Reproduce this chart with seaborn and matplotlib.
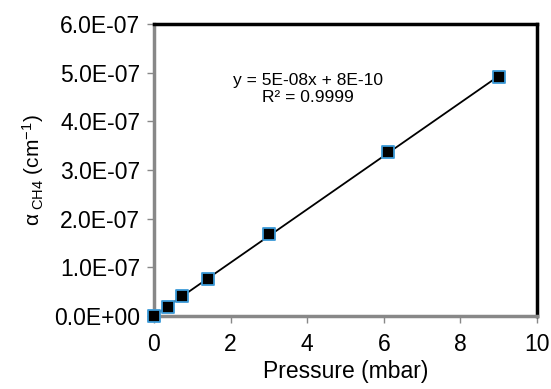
import numpy as np
import pandas as pd
import matplotlib
matplotlib.use("Agg")
import matplotlib.pyplot as plt
import seaborn as sns

pressure = [0.0, 0.37, 0.73, 1.41, 3.0, 6.1, 9.0]
alpha = [0.0, 1.8e-8, 4.1e-8, 7.6e-8, 1.68e-7, 3.36e-7, 4.91e-7]
x_ticks = [0, 2, 4, 6, 8, 10]
y_ticks = [0.0, 1e-7, 2e-7, 3e-7, 4e-7, 5e-7, 6e-7]
y_tick_labels = ["0.0E+00", "1.0E-07", "2.0E-07", "3.0E-07", "4.0E-07", "5.0E-07", "6.0E-07"]
eq_text = "y = 5E-08x + 8E-10\nR\u00b2 = 0.9999"

df = pd.DataFrame({"Pressure": pressure, "alpha": alpha})

sns.set_style("white")
plt.rcParams['font.family'] = ['Liberation Sans', 'DejaVu Sans']
plt.rcParams['mathtext.fontset'] = 'custom'
plt.rcParams['mathtext.rm'] = 'Liberation Sans'
plt.rcParams['mathtext.it'] = 'Liberation Sans:italic'
plt.rcParams['text.color'] = 'black'
plt.rcParams['axes.labelcolor'] = 'black'
plt.rcParams['xtick.labelcolor'] = 'black'
plt.rcParams['ytick.labelcolor'] = 'black'

fig = plt.figure(figsize=(5.51, 3.89), dpi=100)
ax = fig.add_axes([154/551, 1 - 316/389, (537-154)/551, (316-24)/389])

sns.regplot(data=df, x="Pressure", y="alpha", ax=ax, ci=None, truncate=True,
            marker="s",
            scatter_kws=dict(s=70, color="black", edgecolors="#3b9ad8", alpha=1,
                             linewidths=1.3, zorder=6, clip_on=False),
            line_kws=dict(color="black", lw=1.3, zorder=2))

ax.set_xlim(0, 10)
ax.set_ylim(0, 6e-7)
ax.set_xticks(x_ticks)
ax.set_xticklabels([str(t) for t in x_ticks], fontsize=16.5)
ax.set_yticks(y_ticks)
ax.set_yticklabels(y_tick_labels, fontsize=16.5)
ax.tick_params(axis="both", direction="out", length=5, width=1, color="#888888",
               left=True, bottom=True, pad=5)
ax.tick_params(axis="x", pad=7)
ax.set_xlabel("Pressure (mbar)", fontsize=16.5, labelpad=3)
ax.set_ylabel("\u03b1$_{\\ \\mathrm{CH4}}$ (cm$^{-1}$)", fontsize=15, labelpad=6)

for s in ["left", "bottom"]:
    ax.spines[s].set_color("#888888")
    ax.spines[s].set_linewidth(2.5)
for s in ["top", "right"]:
    ax.spines[s].set_color("black")
    ax.spines[s].set_linewidth(2.5)
    ax.spines[s].set_visible(True)
for s in ax.spines.values():
    s.set_zorder(5)

ax.text(4.02, 4.66e-7, eq_text, ha="center", va="center", fontsize=12.5,
        linespacing=1.2)

fig.savefig("out.png", dpi=100)
